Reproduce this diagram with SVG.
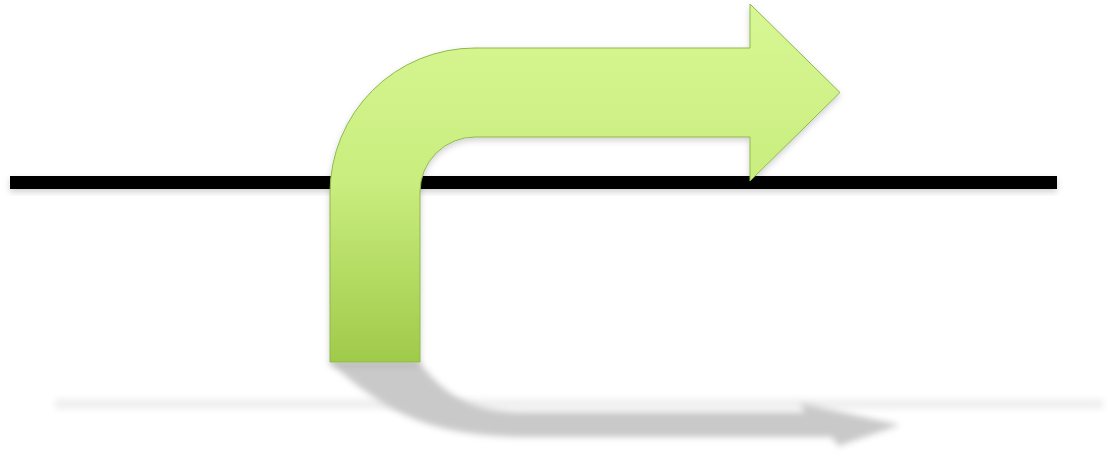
<svg xmlns="http://www.w3.org/2000/svg" width="1114" height="459" viewBox="0 0 1114 459">
  <defs>
    <linearGradient id="g" x1="0" y1="0" x2="0" y2="1">
      <stop offset="0" stop-color="#d8f794"/>
      <stop offset="0.5" stop-color="#c9ed7e"/>
      <stop offset="1" stop-color="#a0ca4a"/>
    </linearGradient>
    <filter id="blur" x="-10%" y="-50%" width="120%" height="200%">
      <feGaussianBlur stdDeviation="3"/>
    </filter>
    <filter id="ds" x="-10%" y="-50%" width="120%" height="200%">
      <feDropShadow dx="0" dy="3" stdDeviation="3" flood-color="#000" flood-opacity="0.18"/>
    </filter>
  </defs>
  <rect width="1114" height="459" fill="#ffffff"/>
  <g id="reflection">
    <rect x="55" y="399" width="1048" height="10" fill="#efefef" filter="url(#blur)"/>
    <path d="M 330 363 L 420 363 C 445 395, 470 411, 520 412 L 805 412 L 800 403 L 900 425 L 838 446 L 832 437 L 520 437 C 430 435, 390 415, 330 363 Z" fill="#c9c9c9" filter="url(#blur)"/>
  </g>
  <g id="baseline">
    <rect x="10" y="176" width="1047" height="13" fill="#000000" filter="url(#ds)"/>
  </g>
  <g id="bent-arrow">
    <path d="M 330 362 L 330 193 A 145 145 0 0 1 475 48 L 750 48 L 750 4 L 840 92.5 L 750 181 L 750 137 L 475 137 A 55 55 0 0 0 420 192 L 420 362 Z" fill="url(#g)" stroke="#8fb84c" stroke-width="1" stroke-linejoin="miter" filter="url(#ds)"/>
  </g>
</svg>
